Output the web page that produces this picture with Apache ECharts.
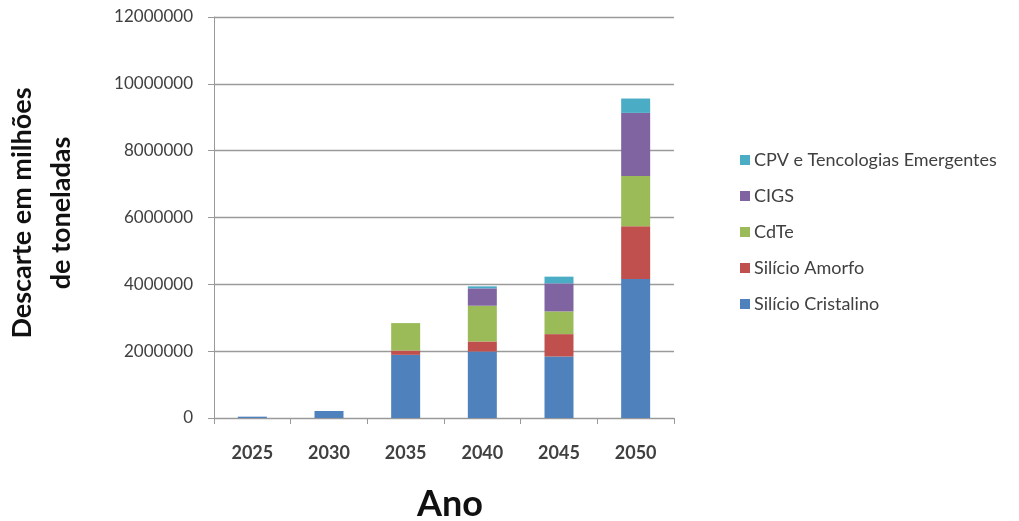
<!DOCTYPE html>
<html>
<head>
<meta charset="utf-8">
<script src="https://cdn.jsdelivr.net/npm/echarts@6/dist/echarts.min.js"></script>
<style>
  html, body { margin: 0; padding: 0; background: #fff; }
  #chart { width: 1019px; height: 521px; }
</style>
</head>
<body>
<div id="chart"></div>
<script>
// Anos
const anos = ['2025', '2030', '2035', '2040', '2045', '2050'];

// Descarte por tecnologia (toneladas)
const silicioCristalino = [40000, 210000, 1890000, 1990000, 1840000, 4160000];
const silicioAmorfo     = [0, 0, 130000, 300000, 670000, 1580000];
const cdTe              = [0, 0, 820000, 1070000, 680000, 1500000];
const cigs              = [0, 0, 0, 520000, 840000, 1890000];
const cpvEmergentes     = [0, 0, 0, 60000, 200000, 430000];

const nomes = ['Silício Cristalino', 'Silício Amorfo', 'CdTe', 'CIGS', 'CPV e Tencologias Emergentes'];
const cores = ['#4F81BD', '#C0504D', '#9BBB59', '#8064A2', '#4BACC6'];
const valores = [silicioCristalino, silicioAmorfo, cdTe, cigs, cpvEmergentes];

const fonte = 'Lato, "Open Sans", sans-serif';

const chart = echarts.init(document.getElementById('chart'));

chart.setOption({
  backgroundColor: '#ffffff',
  animation: false,
  grid: { left: 214, right: 345, top: 17, bottom: 103 },
  legend: {
    orient: 'vertical',
    left: 735,
    top: 146,
    itemGap: 18,
    itemWidth: 10,
    itemHeight: 10,
    icon: 'rect',
    data: nomes.slice().reverse(),
    textStyle: { fontFamily: fonte, fontSize: 18, color: '#404040', padding: [0, 0, 0, -1] }
  },
  xAxis: {
    type: 'category',
    data: anos,
    axisLine: { lineStyle: { color: '#999', width: 1 } },
    axisTick: { show: true, length: 6, lineStyle: { color: '#999' } },
    axisLabel: { margin: 26, fontFamily: fonte, fontSize: 18, fontWeight: 'bold', color: '#404040' }
  },
  yAxis: {
    type: 'value',
    min: 0,
    max: 12000000,
    interval: 2000000,
    axisLine: { show: true, lineStyle: { color: '#999', width: 1 } },
    axisTick: { show: true, length: 6, lineStyle: { color: '#999' } },
    axisLabel: {
      margin: 21,
      fontFamily: fonte,
      fontSize: 17,
      color: '#404040',
      formatter: (v) => String(v)
    },
    splitLine: { lineStyle: { color: '#9a9a9a', width: 1.3 } }
  },
  graphic: [
    {
      type: 'text',
      x: 42,
      y: 213,
      rotation: Math.PI / 2,
      style: {
        text: 'Descarte em milhões\nde toneladas',
        fontFamily: fonte,
        fontSize: 27,
        fontWeight: 'bold',
        fill: '#111',
        align: 'center',
        verticalAlign: 'middle',
        lineHeight: 39
      }
    },
    {
      type: 'text',
      x: 450,
      y: 504,
      style: {
        text: 'Ano',
        fontFamily: fonte,
        fontSize: 36,
        fontWeight: 'bold',
        fill: '#111',
        align: 'center',
        verticalAlign: 'middle'
      }
    }
  ],
  series: nomes.map((nome, i) => ({
    name: nome,
    type: 'bar',
    stack: 'total',
    barWidth: 29,
    data: valores[i],
    itemStyle: { color: cores[i] }
  }))
});
</script>
</body>
</html>
